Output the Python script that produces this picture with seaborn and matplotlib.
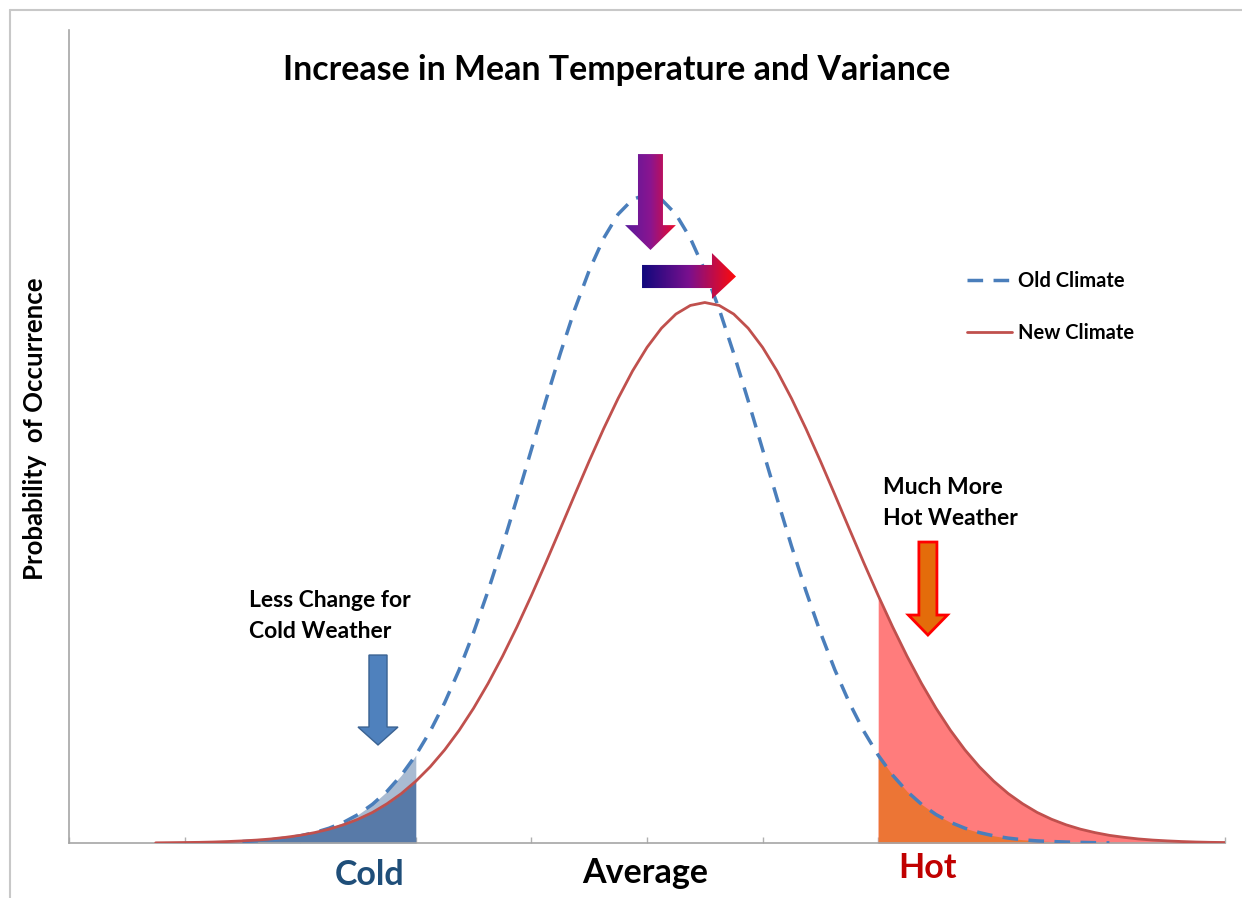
import numpy as np
import pandas as pd
import matplotlib
matplotlib.use("Agg")
import matplotlib.pyplot as plt
import seaborn as sns
from matplotlib.patches import Polygon
from matplotlib.lines import Line2D
from matplotlib.colors import LinearSegmentedColormap

nan = np.nan

# temperature axis samples (arbitrary units, axis runs 0..10)
temp = [0.75, 0.875, 1.0, 1.125, 1.25, 1.375, 1.5, 1.625, 1.75, 1.875,
        2.0, 2.125, 2.25, 2.375, 2.5, 2.625, 2.75, 2.875, 3.0, 3.125,
        3.25, 3.375, 3.5, 3.625, 3.75, 3.875, 4.0, 4.125, 4.25, 4.375,
        4.5, 4.625, 4.75, 4.875, 5.0, 5.125, 5.25, 5.375, 5.5, 5.625,
        5.75, 5.875, 6.0, 6.125, 6.25, 6.375, 6.5, 6.625, 6.75, 6.875,
        7.0, 7.125, 7.25, 7.375, 7.5, 7.625, 7.75, 7.875, 8.0, 8.125,
        8.25, 8.375, 8.5, 8.625, 8.75, 8.875, 9.0, 9.125, 9.25, 9.375,
        9.5, 9.625, 9.75, 9.875, 10.0]

# probability of occurrence
old_climate = [nan, nan, nan, nan, nan, nan,
               0.0009, 0.0013, 0.0020, 0.0030, 0.0044, 0.0064, 0.0091, 0.0127, 0.0175, 0.0238,
               0.0317, 0.0417, 0.0540, 0.0688, 0.0863, 0.1065, 0.1295, 0.1550, 0.1826, 0.2119,
               0.2420, 0.2721, 0.3011, 0.3282, 0.3521, 0.3719, 0.3867, 0.3958, 0.3989,
               0.3958, 0.3867, 0.3719, 0.3521, 0.3282, 0.3011, 0.2721, 0.2420, 0.2119, 0.1826,
               0.1550, 0.1295, 0.1065, 0.0863, 0.0688, 0.0540, 0.0417, 0.0317, 0.0238, 0.0175,
               0.0127, 0.0091, 0.0064, 0.0044, 0.0030, 0.0020, 0.0013, 0.0009, 0.0006, 0.0004,
               0.0002, 0.0001,
               nan, nan, nan, nan, nan, nan, nan, nan]
new_climate = [0.0001, 0.0002, 0.0003, 0.0004, 0.0006, 0.0009, 0.0013, 0.0018, 0.0025, 0.0035,
               0.0047, 0.0064, 0.0085, 0.0112, 0.0146, 0.0188, 0.0241, 0.0304, 0.0380, 0.0469,
               0.0573, 0.0693, 0.0829, 0.0981, 0.1148, 0.1329, 0.1522, 0.1724, 0.1932, 0.2142,
               0.2349, 0.2548, 0.2734, 0.2903, 0.3048, 0.3166, 0.3253, 0.3306, 0.3324,
               0.3306, 0.3253, 0.3166, 0.3048, 0.2903, 0.2734, 0.2548, 0.2349, 0.2142, 0.1932,
               0.1724, 0.1522, 0.1329, 0.1148, 0.0981, 0.0829, 0.0693, 0.0573, 0.0469, 0.0380,
               0.0304, 0.0241, 0.0188, 0.0146, 0.0112, 0.0085, 0.0064, 0.0047, 0.0035, 0.0025,
               0.0018, 0.0013, 0.0009, 0.0006, 0.0004, 0.0003]

cold_edge = 3.0
hot_edge = 7.0

categories = ["Cold", "Average", "Hot"]
category_pos = [2.6, 4.98, 7.43]

df = pd.DataFrame({"temp": temp, "old": old_climate, "new": new_climate})

sns.set_theme(style="white")
plt.rcParams['font.family'] = ['Lato', 'DejaVu Sans']
plt.rcParams['text.color'] = 'black'
plt.rcParams['axes.labelcolor'] = 'black'

fig = plt.figure(figsize=(12.42, 8.98), dpi=100)
ax = fig.add_axes([0.05556, 0.06125, 0.93075, 0.90534])

# shaded tails
cold = df[df.temp <= cold_edge]
cold_both = cold.dropna()
ax.fill_between(cold.temp, 0, cold.new, color="#587aa8", lw=0, zorder=1)
ax.fill_between(cold_both.temp, cold_both.new, cold_both.old,
                where=cold_both.old > cold_both.new, interpolate=True,
                color="#a9bbd2", lw=0, zorder=1)
hot = df[df.temp >= hot_edge]
hot_old = hot.dropna()
ax.fill_between(hot.temp, 0, hot.new, color="#ff7c7c", lw=0, zorder=1)
ax.fill_between(hot_old.temp, 0, hot_old.old, color="#ec7535", lw=0, zorder=1)

# curves
sns.lineplot(data=df.dropna(subset=["old"]), x="temp", y="old", ax=ax,
             color="#4a7ebb", lw=2.5, linestyle=(0, (4.5, 3)), label="Old Climate",
             estimator=None, zorder=3)
sns.lineplot(data=df, x="temp", y="new", ax=ax, color="#c0504d", lw=2.0,
             label="New Climate", estimator=None, zorder=3)


def down_arrow(xc, top, base, tip, sw, hw):
    return [(xc - sw, top), (xc + sw, top), (xc + sw, base), (xc + hw, base),
            (xc, tip), (xc - hw, base), (xc - sw, base)]


def gradient_patch(verts, colors):
    patch = Polygon(verts, closed=True, facecolor="none", edgecolor="none")
    ax.add_patch(patch)
    xs, ys = zip(*verts)
    grad = np.linspace(0, 1, 256).reshape(1, -1)
    im = ax.imshow(grad, extent=[min(xs), max(xs), min(ys), max(ys)], aspect="auto",
                   cmap=LinearSegmentedColormap.from_list("g", colors), zorder=5)
    im.set_clip_path(patch)


# gradient arrows: lower peak and shift to the right
gradient_patch(down_arrow(5.03, 0.4237, 0.380, 0.3647, 0.108, 0.22),
               ["#5a1a9c", "#8a1590", "#ec0a2a"])
gradient_patch([(4.957, 0.3413), (4.957, 0.3555), (5.562, 0.3555), (5.562, 0.3628),
                (5.77, 0.3484), (5.562, 0.3346), (5.562, 0.3413)],
               ["#10087c", "#7a108e", "#ff0a0a"])

# plain arrows
ax.add_patch(Polygon(down_arrow(2.673, 0.1156, 0.0713, 0.0603, 0.078, 0.173),
                     closed=True, facecolor="#4f81bd", edgecolor="#3a6292", lw=1, zorder=5))
ax.add_patch(Polygon(down_arrow(7.43, 0.1851, 0.1402, 0.1279, 0.078, 0.169),
                     closed=True, facecolor="#e46c0a", edgecolor="#ff0000", lw=2, zorder=5))

ax.set_xlim(0, 10)
ax.set_ylim(0, 0.5)
ax.set_xticks(range(0, 11))
ax.set_xticklabels([])
ax.set_yticks([])
ax.tick_params(axis="x", direction="in", length=4.5, width=1, color="#b0b0b0", bottom=True)
ax.set_xlabel("")
for side in ["top", "right"]:
    ax.spines[side].set_visible(False)
for side in ["left", "bottom"]:
    ax.spines[side].set_color("#a6a6a6")
    ax.spines[side].set_linewidth(1.2)

ax.set_ylabel("Probability  of Occurrence", fontsize=18.5, fontweight="bold")
ax.yaxis.set_label_coords(-0.019, 0.510)

ax.legend(loc="upper left", bbox_to_anchor=(0.777, 0.703), frameon=False,
          prop={"weight": "bold", "size": 14.5}, handlelength=2.2, labelspacing=1.55,
          handletextpad=0.3, borderpad=0, borderaxespad=0)

# category labels under the axis
label_colors = ["#1f4e79", "black", "#c00000"]
label_offsets = [-23, -21.6, -18]
for name, xpos, col, off in zip(categories, category_pos, label_colors, label_offsets):
    ax.annotate(name, xy=(xpos, 0), xycoords=("data", "axes fraction"),
                xytext=(0, off), textcoords="offset points", ha="center", va="center",
                fontsize=24.5, fontweight="bold", color=col)

ax.text(1.557, 0.1396, "Less Change for\nCold Weather", ha="left", va="center",
        fontsize=16.5, fontweight="bold", linespacing=1.6)
ax.text(7.04, 0.2091, "Much More\nHot Weather", ha="left", va="center",
        fontsize=16.5, fontweight="bold", linespacing=1.6)

fig.text(617 / 1242, 1 - 70 / 898, "Increase in Mean Temperature and Variance",
         ha="center", va="center", fontsize=24.4, fontweight="bold")

# outer frame
fig.add_artist(Line2D([9.5 / 1242, 9.5 / 1242], [0, 1 - 10 / 898], color="#c8c8c8", lw=1.5,
                      transform=fig.transFigure))
fig.add_artist(Line2D([9.5 / 1242, 1], [1 - 10 / 898, 1 - 10 / 898], color="#c8c8c8", lw=1.5,
                      transform=fig.transFigure))

fig.savefig("out.png", dpi=100)
